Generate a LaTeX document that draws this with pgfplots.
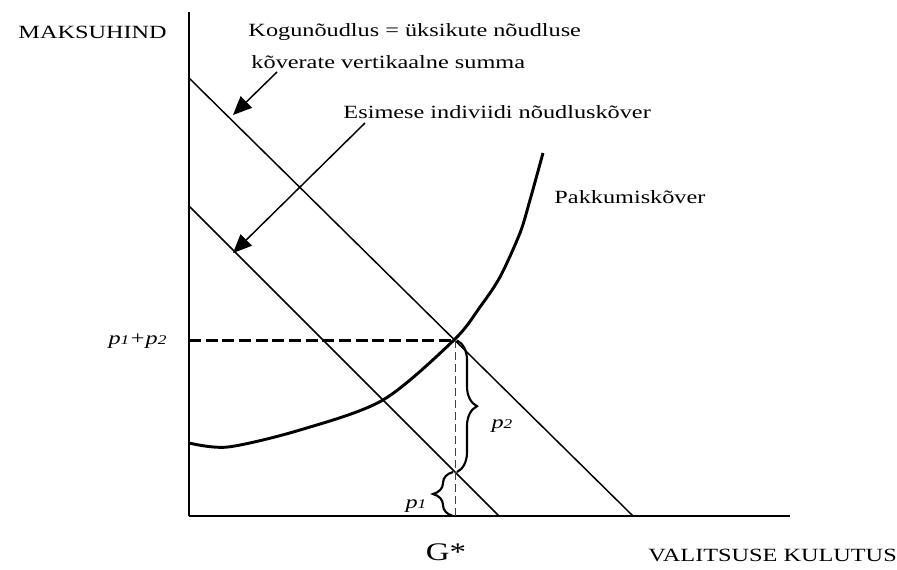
\documentclass[border=0pt]{standalone}
\usepackage{pgfplots}
\pgfplotsset{compat=1.18}
\usepackage{fontspec}
\setmainfont{Liberation Serif}[FakeStretch=1.3]
\usetikzlibrary{arrows.meta,decorations.pathreplacing}

\newcommand{\sub}[1]{{\fontsize{10pt}{12pt}\selectfont #1}}

% one drawing unit = 0.75pt
\begin{document}
\fontsize{14pt}{16pt}\selectfont
\begin{tikzpicture}[x=0.75pt,y=0.75pt]
\useasboundingbox (0,0) rectangle (897,569);
\begin{axis}[
  at={(141.75pt,39.75pt)}, anchor=south west,
  scale only axis, width=450.75pt, height=378pt,
  xmin=0, xmax=601, ymin=0, ymax=504,
  axis lines=left, axis line style={-, line width=1.1pt},
  xtick=\empty, ytick=\empty,
  clip=false,
  every node/.append style={font=\fontsize{14pt}{16pt}\selectfont, inner sep=0pt},
]
% aggregate demand (vertical sum)
\addplot[black, line width=1.1pt] coordinates {(0,438) (444,0)};
% first individual's demand
\addplot[black, line width=1.1pt] coordinates {(0,310) (310,0)};
% supply curve
\addplot[black, line width=2.2pt, smooth, tension=0.5] coordinates {
  (0,73) (39,69) (111,86) (194,116) (265,176) (291,209) (311,239) (331,283) (341,316) (354,363)};
% price and quantity guides
\addplot[black, line width=2pt, dash pattern=on 9pt off 3.5pt] coordinates {(0,175.6) (265,175.6)};
\addplot[black!75, line width=0.7pt, dash pattern=on 6pt off 3pt] coordinates {(266,175.6) (266,0)};

% braces for p1 and p2
\draw[line width=1.6pt, decorate, decoration={brace, amplitude=15}]
  (axis cs:264,0) -- (axis cs:264,44);
\draw[line width=1.6pt, decorate, decoration={brace, amplitude=15}]
  (axis cs:268,175.6) -- (axis cs:268,44);

% arrows pointing at the demand curves
\draw[line width=1.1pt, -{Triangle[length=14pt, width=12pt]}]
  (axis cs:88,444) -- (axis cs:44,401);
\draw[line width=1.1pt, -{Triangle[length=14pt, width=12pt]}]
  (axis cs:176,393) -- (axis cs:44,263);

% labels
\node[anchor=west] at (axis cs:-177,484) {MAKSUHIND};
\node[anchor=west] at (axis cs:53,484) {Kogunõudlus = üksikute nõudluse};
\node[anchor=west] at (axis cs:56,454) {kõverate vertikaalne summa};
\node[anchor=west] at (axis cs:148,404) {Esimese indiviidi nõudluskõver};
\node[anchor=west] at (axis cs:359,319) {Pakkumiskõver};
\node[anchor=east] at (axis cs:-16,175) {\itshape p\sub{1}+p\sub{2}};
\node at (axis cs:313,90) {\itshape p\sub{2}};
\node at (axis cs:227,10) {\itshape p\sub{1}};
\node[font=\fontsize{19pt}{21pt}\selectfont] at (axis cs:257,-36) {G*};
\node[anchor=west] at (axis cs:453,-39) {VALITSUSE KULUTUS};
\end{axis}
\end{tikzpicture}
\end{document}
